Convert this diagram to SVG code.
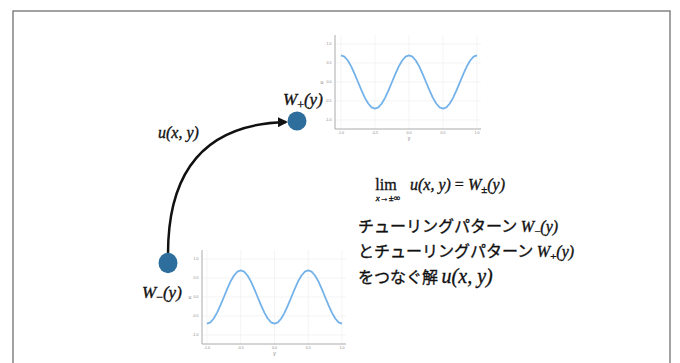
<svg xmlns="http://www.w3.org/2000/svg" width="680" height="363" viewBox="0 0 680 363">
<defs>
<style>
.frame{fill:none;stroke:#707070;stroke-width:1.3}
.axis{stroke:#a0a0a0;stroke-width:0.9;fill:none}
.grid{stroke:#efefef;stroke-width:0.7;fill:none}
.curve{stroke:#74b2ea;stroke-width:1.8;fill:none;stroke-linejoin:round}
.tick{font-family:"Liberation Sans",Arial,sans-serif;font-size:3.6px;fill:#888;text-anchor:middle}
.alab{font-family:"Liberation Sans",Arial,sans-serif;font-size:5px;fill:#777;text-anchor:middle}
.node{fill:#2d6e9c}
.math{font-family:"Liberation Serif","Times New Roman",serif;font-style:italic;fill:#111;stroke:#111;stroke-width:0.35}
.up{font-family:"Liberation Serif","Times New Roman",serif;fill:#111;stroke:#111;stroke-width:0.3}
.jp{font-family:"Noto Sans CJK JP","Noto Sans",sans-serif;font-size:16px;fill:#111;stroke:#111;stroke-width:0.35}
.edge{fill:none;stroke:#111;stroke-width:2.5}
</style>
<marker id="arr" viewBox="0 0 10 10" refX="8" refY="5" markerWidth="4" markerHeight="4" orient="auto" markerUnits="strokeWidth">
<path d="M0,0 L10,5 L0,10 z" fill="#111"/>
</marker>
</defs>
<rect width="680" height="363" fill="#fff"/>
<rect class="frame" x="13" y="11" width="657" height="362"/>

<g id="plot-top">
<g class="grid">
<line x1="341" y1="35" x2="341" y2="129"/><line x1="375" y1="35" x2="375" y2="129"/><line x1="409" y1="35" x2="409" y2="129"/><line x1="443" y1="35" x2="443" y2="129"/><line x1="477" y1="35" x2="477" y2="129"/>
<line x1="335" y1="44" x2="481" y2="44"/><line x1="335" y1="63" x2="481" y2="63"/><line x1="335" y1="82" x2="481" y2="82"/><line x1="335" y1="101" x2="481" y2="101"/><line x1="335" y1="120" x2="481" y2="120"/>
</g>
<path class="axis" d="M335,35 V129 H481"/>
<polyline class="curve" points="341,55.4 344.4,56.7 347.8,60.5 351.2,66.4 354.6,73.8 358,82 361.4,90.2 364.8,97.6 368.2,103.5 371.6,107.3 375,108.6 378.4,107.3 381.8,103.5 385.2,97.6 388.6,90.2 392,82 395.4,73.8 398.8,66.4 402.2,60.5 405.6,56.7 409,55.4 412.4,56.7 415.8,60.5 419.2,66.4 422.6,73.8 426,82 429.4,90.2 432.8,97.6 436.2,103.5 439.6,107.3 443,108.6 446.4,107.3 449.8,103.5 453.2,97.6 456.6,90.2 460,82 463.4,73.8 466.8,66.4 470.2,60.5 473.6,56.7 477,55.4"/>
<text class="tick" x="329" y="45.3">1.0</text><text class="tick" x="329" y="64.3">0.5</text><text class="tick" x="329" y="83.3">0.0</text><text class="tick" x="328.5" y="102.3">-0.5</text><text class="tick" x="328.5" y="121.3">-1.0</text>
<text class="tick" x="341" y="134">-1.0</text><text class="tick" x="375" y="134">-0.5</text><text class="tick" x="409" y="134">0.0</text><text class="tick" x="443" y="134">0.5</text><text class="tick" x="477" y="134">1.0</text>
<text class="alab" x="322" y="84">u</text><text class="alab" x="409" y="140">y</text>
</g>

<g id="plot-bottom">
<g class="grid">
<line x1="207" y1="250" x2="207" y2="344"/><line x1="240.75" y1="250" x2="240.75" y2="344"/><line x1="274.5" y1="250" x2="274.5" y2="344"/><line x1="308.25" y1="250" x2="308.25" y2="344"/><line x1="342" y1="250" x2="342" y2="344"/>
<line x1="202" y1="259" x2="346" y2="259"/><line x1="202" y1="278" x2="346" y2="278"/><line x1="202" y1="297" x2="346" y2="297"/><line x1="202" y1="316" x2="346" y2="316"/><line x1="202" y1="335" x2="346" y2="335"/>
</g>
<path class="axis" d="M202,250 V344 H346"/>
<polyline class="curve" points="207,323.6 210.4,322.3 213.75,318.5 217.1,312.6 220.5,305.2 223.9,297 227.25,288.8 230.6,281.4 234,275.5 237.4,271.7 240.75,270.4 244.1,271.7 247.5,275.5 250.9,281.4 254.25,288.8 257.6,297 261,305.2 264.4,312.6 267.75,318.5 271.1,322.3 274.5,323.6 277.9,322.3 281.25,318.5 284.6,312.6 288,305.2 291.4,297 294.75,288.8 298.1,281.4 301.5,275.5 304.9,271.7 308.25,270.4 311.6,271.7 315,275.5 318.4,281.4 321.75,288.8 325.1,297 328.5,305.2 331.9,312.6 335.25,318.5 338.6,322.3 342,323.6"/>
<text class="tick" x="196" y="260.3">1.0</text><text class="tick" x="196" y="279.3">0.5</text><text class="tick" x="196" y="298.3">0.0</text><text class="tick" x="195.5" y="317.3">-0.5</text><text class="tick" x="195.5" y="336.3">-1.0</text>
<text class="tick" x="207" y="349">-1.0</text><text class="tick" x="240.75" y="349">-0.5</text><text class="tick" x="274.5" y="349">0.0</text><text class="tick" x="308.25" y="349">0.5</text><text class="tick" x="342" y="349">1.0</text>
<text class="alab" x="190" y="299">u</text><text class="alab" x="274.5" y="355">y</text>
</g>

<g id="connectors">
<path class="edge" d="M168,254 Q168,125 286,122" marker-end="url(#arr)"/>
<text class="math" x="158" y="138" font-size="16">u(x, y)</text>
</g>

<g id="node-wplus">
<circle class="node" cx="297" cy="121" r="9.5"/>
<text class="math" x="283" y="105" font-size="17">W<tspan font-size="12" font-style="normal" dy="4">+</tspan><tspan dy="-4">(y)</tspan></text>
</g>

<g id="node-wminus">
<ellipse class="node" cx="168" cy="263" rx="9.5" ry="10.2"/>
<text class="math" x="142" y="298" font-size="17">W<tspan font-size="12" font-style="normal" dy="3">−</tspan><tspan dy="-3">(y)</tspan></text>
</g>

<g id="description">
<text class="up" x="386" y="190" font-size="16" text-anchor="middle">lim</text>
<text class="math" x="388" y="201" font-size="9" text-anchor="middle" stroke-width="0.15">x<tspan font-style="normal">→±∞</tspan></text>
<text class="math" x="410" y="190" font-size="16">u(x, y) <tspan font-style="normal">=</tspan> W<tspan font-size="11" font-style="normal" dy="3">±</tspan><tspan dy="-3">(y)</tspan></text>
<text class="jp" x="358" y="232">チューリングパターン <tspan class="math" font-size="16">W<tspan font-size="11" font-style="normal" dy="3">−</tspan><tspan dy="-3">(y)</tspan></tspan></text>
<text class="jp" x="358" y="257">とチューリングパターン <tspan class="math" font-size="16">W<tspan font-size="11" font-style="normal" dy="3">+</tspan><tspan dy="-3">(y)</tspan></tspan></text>
<text class="jp" x="358" y="283">をつなぐ解 <tspan class="math" font-size="20">u(x, y)</tspan></text>
</g>
</svg>
